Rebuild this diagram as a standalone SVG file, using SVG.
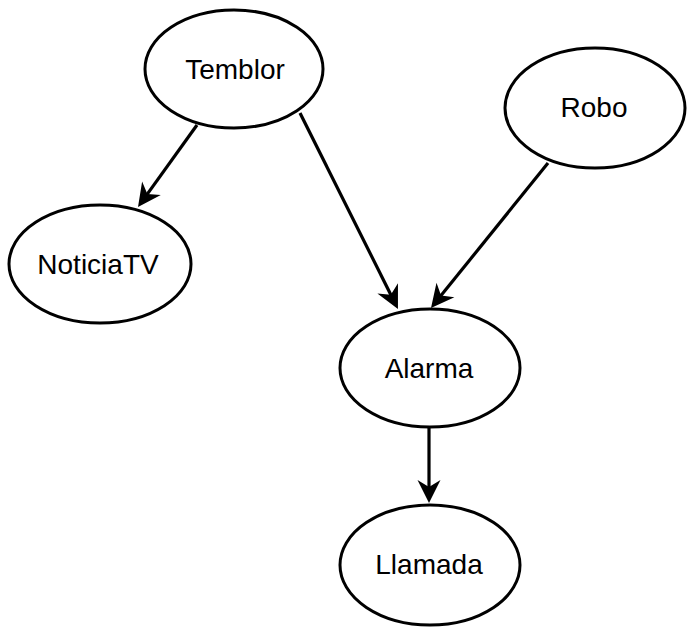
<svg xmlns="http://www.w3.org/2000/svg" width="696" height="636" viewBox="0 0 696 636">
  <style>
    .node ellipse { fill: #ffffff; stroke: #000000; stroke-width: 3; }
    .node text { font-family: "Liberation Sans", Arial, sans-serif; font-size: 28px; fill: #000000; text-anchor: middle; }
    .edge { stroke: #000000; stroke-width: 3.2; fill: none; marker-end: url(#arrow); }
  </style>
  <defs>
    <marker id="arrow" markerUnits="userSpaceOnUse" viewBox="-24 -13 26 26" markerWidth="26" markerHeight="26" refX="-14" refY="0" orient="auto">
      <path d="M0,0 L-23,-11.5 L-16,0 L-23,11.5 Z" fill="#000000"/>
    </marker>
  </defs>
  <g id="connectors">
    <line class="edge" x1="197" y1="125" x2="146.2" y2="195.6"/>
    <line class="edge" x1="300" y1="113" x2="391.7" y2="296.5"/>
    <line class="edge" x1="548" y1="163" x2="439.8" y2="297.1"/>
    <line class="edge" x1="429" y1="428" x2="429" y2="489"/>
  </g>
  <g id="temblor" class="node">
    <ellipse cx="234" cy="69" rx="89" ry="59"/>
    <text x="235" y="79">Temblor</text>
  </g>
  <g id="robo" class="node">
    <ellipse cx="595" cy="108" rx="90" ry="60"/>
    <text x="594" y="117">Robo</text>
  </g>
  <g id="noticiatv" class="node">
    <ellipse cx="100" cy="264" rx="91" ry="59"/>
    <text x="98" y="274">NoticiaTV</text>
  </g>
  <g id="alarma" class="node">
    <ellipse cx="430" cy="368" rx="90" ry="59"/>
    <text x="429" y="378">Alarma</text>
  </g>
  <g id="llamada" class="node">
    <ellipse cx="430" cy="565" rx="90" ry="60"/>
    <text x="429" y="574">Llamada</text>
  </g>
</svg>
